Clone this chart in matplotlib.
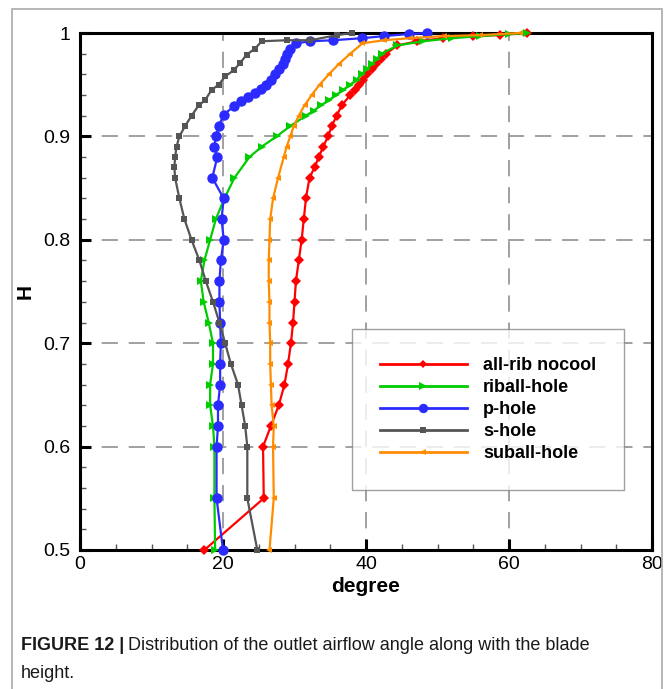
import matplotlib
matplotlib.use("Agg")
import matplotlib.pyplot as plt
from matplotlib.lines import Line2D
from matplotlib.patches import Rectangle
from matplotlib.ticker import MultipleLocator

plt.rcParams["font.family"] = ["Liberation Sans", "DejaVu Sans"]

# blade height H and outlet angle (degree)
H_red = [0.50, 0.55, 0.60, 0.62, 0.64, 0.66, 0.68, 0.70, 0.72, 0.74, 0.76, 0.78,
         0.80, 0.82, 0.84, 0.86, 0.87, 0.88, 0.89, 0.90, 0.91, 0.92, 0.93, 0.94,
         0.945, 0.95, 0.955, 0.96, 0.965, 0.97, 0.975, 0.98, 0.988, 0.992, 0.995,
         0.997, 0.998, 1.0]
deg_red = [17.4, 25.7, 25.6, 26.7, 27.8, 28.6, 29.1, 29.5, 29.8, 30.0, 30.2, 30.6,
           31.0, 31.3, 31.6, 32.1, 32.8, 33.4, 34.0, 34.7, 35.2, 35.9, 36.6, 37.8,
           38.4, 39.0, 39.6, 40.1, 40.8, 41.4, 42.1, 42.8, 44.4, 47.2, 50.8,
           55.0, 58.8, 62.5]

H_green = [0.50, 0.55, 0.60, 0.62, 0.64, 0.66, 0.68, 0.70, 0.72, 0.74, 0.76, 0.78,
           0.80, 0.82, 0.84, 0.86, 0.88, 0.89, 0.90, 0.91, 0.92, 0.925, 0.93, 0.935,
           0.94, 0.945, 0.95, 0.955, 0.96, 0.965, 0.97, 0.975, 0.98, 0.988, 0.992,
           0.995, 0.997, 0.999, 1.0]
deg_green = [18.9, 18.8, 18.8, 18.6, 18.2, 18.2, 18.6, 18.6, 18.0, 17.3, 16.9, 17.4,
             18.2, 19.0, 20.2, 21.6, 23.7, 25.4, 27.5, 29.4, 31.6, 32.7, 33.7, 34.8,
             35.8, 36.8, 37.8, 38.7, 39.4, 40.1, 40.8, 41.5, 42.2, 44.4, 48.0,
             52.0, 56.0, 60.0, 62.5]

H_blue = [0.50, 0.55, 0.60, 0.62, 0.64, 0.66, 0.68, 0.70, 0.72, 0.74, 0.76, 0.78,
          0.80, 0.82, 0.84, 0.86, 0.88, 0.89, 0.90, 0.91, 0.921, 0.929, 0.934, 0.938,
          0.942, 0.946, 0.950, 0.955, 0.960, 0.965, 0.970, 0.975, 0.980, 0.985,
          0.990, 0.992, 0.993, 0.995, 0.997, 0.999, 1.0]
deg_blue = [20.0, 19.1, 19.1, 19.3, 19.3, 19.6, 19.6, 19.7, 19.6, 19.5, 19.5, 19.7,
            20.1, 19.8, 20.1, 18.5, 19.2, 18.8, 19.0, 19.4, 20.1, 21.5, 22.5, 23.5,
            24.5, 25.3, 26.0, 26.7, 27.3, 27.9, 28.4, 28.7, 29.0, 29.4,
            30.2, 32.2, 35.4, 39.5, 42.5, 46.0, 48.5]

H_gray = [0.50, 0.55, 0.60, 0.62, 0.64, 0.66, 0.68, 0.70, 0.72, 0.74, 0.76, 0.78,
          0.80, 0.82, 0.84, 0.86, 0.87, 0.88, 0.89, 0.90, 0.91, 0.92, 0.93, 0.935,
          0.945, 0.95, 0.958, 0.964, 0.971, 0.979, 0.985, 0.992, 0.993, 0.993,
          0.998, 1.0]
deg_gray = [24.8, 23.4, 23.4, 23.1, 22.6, 22.1, 21.1, 20.3, 19.5, 18.6, 17.6, 16.7,
            15.6, 14.6, 13.9, 13.3, 13.2, 13.3, 13.5, 13.9, 14.7, 15.6, 16.6, 17.5,
            18.4, 19.4, 20.3, 21.5, 22.4, 23.3, 24.5, 25.4, 28.9, 32.2,
            36.0, 38.0]

H_orange = [0.50, 0.55, 0.60, 0.62, 0.64, 0.66, 0.68, 0.70, 0.72, 0.74, 0.76, 0.78,
            0.80, 0.82, 0.84, 0.86, 0.88, 0.89, 0.90, 0.91, 0.92, 0.93, 0.94, 0.95,
            0.96, 0.97, 0.98, 0.99, 0.993, 0.995, 0.997, 0.998, 1.0]
deg_orange = [26.5, 27.1, 27.0, 27.1, 26.8, 26.7, 26.6, 26.6, 26.5, 26.5, 26.4, 26.4,
              26.5, 26.6, 27.0, 27.7, 28.5, 28.9, 29.4, 29.9, 30.6, 31.4, 32.4, 33.5,
              34.8, 36.2, 37.8, 39.5, 42.5, 46.2, 50.9, 56.0, 61.5]

labels = ["all-rib nocool", "riball-hole", "p-hole", "s-hole", "suball-hole"]
colors = ["#ff0000", "#00cc00", "#2b2bff", "#555555", "#ff8c00"]
markers = ["D", ">", "o", "s", "<"]
msizes = [5, 6, 7.5, 4.5, 4.5]
series = [(deg_red, H_red), (deg_green, H_green), (deg_blue, H_blue),
          (deg_gray, H_gray), (deg_orange, H_orange)]

fig = plt.figure(figsize=(6.66, 6.89), dpi=100)

# grey frame around figure + caption
fig.patches.append(Rectangle((12 / 666, -0.05), 650 / 666, 1 - 9 / 689 + 0.05,
                             transform=fig.transFigure, fill=False,
                             edgecolor="#aaaaaa", linewidth=1.2))

ax = fig.add_axes([80 / 666, 1 - 550 / 689, 572 / 666, 517 / 689])

for (x, y), c, m, ms, lab in zip(series, colors, markers, msizes, labels):
    ax.plot(x, y, color=c, marker=m, markersize=ms, linewidth=1.6,
            markeredgewidth=0, label=lab, clip_on=False, zorder=3)

ax.set_xlim(0, 80)
ax.set_ylim(0.5, 1.0)
ax.xaxis.set_major_locator(MultipleLocator(20))
ax.xaxis.set_minor_locator(MultipleLocator(5))
ax.yaxis.set_major_locator(MultipleLocator(0.1))
ax.yaxis.set_minor_locator(MultipleLocator(0.02))
ax.set_yticks([0.5, 0.6, 0.7, 0.8, 0.9, 1.0])
ax.set_yticklabels(["0.5", "0.6", "0.7", "0.8", "0.9", "1"])

ax.tick_params(which="major", direction="in", length=8, width=2.2,
               labelsize=14, pad=4)
ax.tick_params(axis="y", which="major", pad=7)
ax.tick_params(which="minor", direction="in", length=4, width=1.0, color="#555")
for sp in ax.spines.values():
    sp.set_linewidth(2.2)

ax.grid(which="major", color="#999999", linewidth=1.3,
        linestyle=(3, (9, 6)))
ax.set_axisbelow(True)

ax.set_xlabel("degree", fontsize=15, fontweight="bold", labelpad=3)
ax.set_ylabel("H", fontsize=15, fontweight="bold", labelpad=6)

handles = [Line2D([], [], color=c, marker=m, markersize=ms * 0.9, linewidth=2,
                  markeredgewidth=0)
           for c, m, ms in zip(colors, markers, msizes)]
leg = ax.legend(handles, labels, loc="upper left",
                bbox_to_anchor=((352 - 80) / 572, (550 - 329) / 517),
                frameon=True, fancybox=False, edgecolor="#888888",
                prop={"weight": "bold", "size": 13}, handlelength=4.8,
                handletextpad=0.9, labelspacing=0.28, borderpad=1.55,
                borderaxespad=0)
leg.get_frame().set_linewidth(1.0)
leg.set_zorder(5)

# caption
r = fig.canvas.get_renderer()
t1 = fig.text(21 / 666, 1 - 645 / 689, "FIGURE 12 |", fontsize=13,
              fontweight="bold", va="center", ha="left", color="#1a1a1a")
bb = t1.get_window_extent(renderer=r)
fig.text(bb.x1 / fig.bbox.width + 4 / 666, 1 - 645 / 689,
         "Distribution of the outlet airflow angle along with the blade",
         fontsize=13, va="center", ha="left", color="#1a1a1a")
fig.text(21 / 666, 1 - 673 / 689, "height.", fontsize=13, va="center",
         ha="left", color="#1a1a1a")

fig.savefig("out.png", dpi=100)
